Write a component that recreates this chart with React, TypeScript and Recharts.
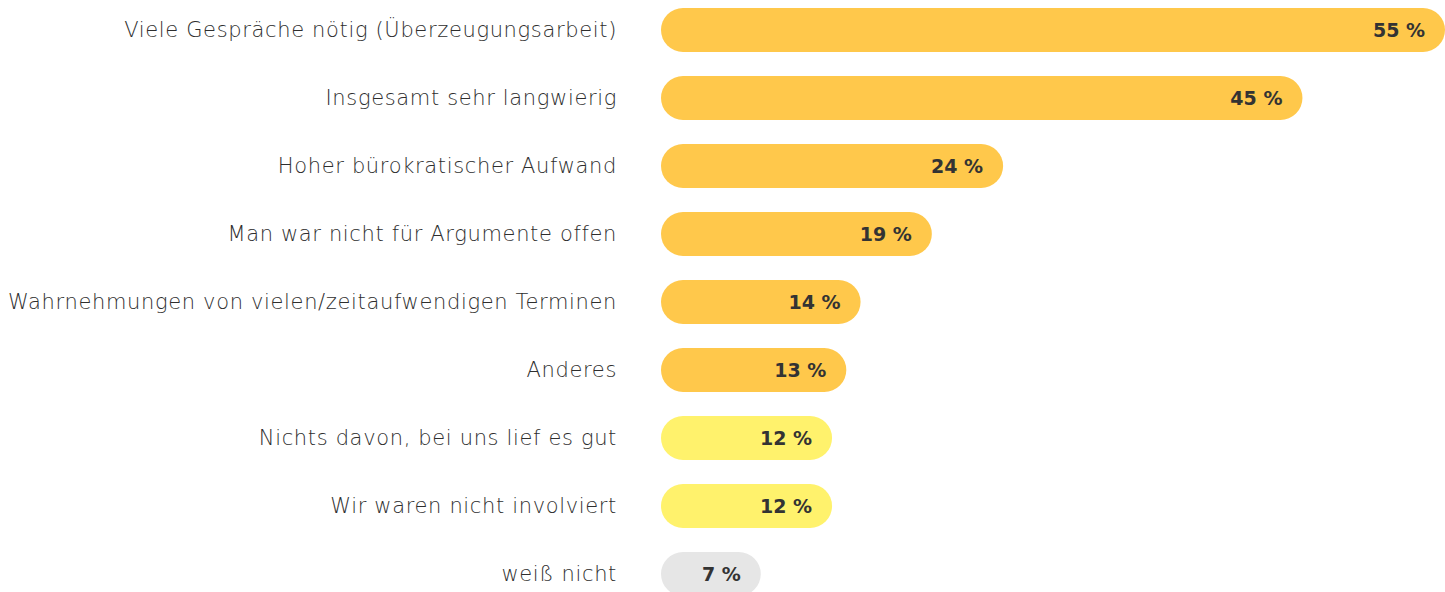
import { BarChart, Bar, XAxis, YAxis, Cell, LabelList } from "recharts"

const categories = [
  "Viele Gespräche nötig (Überzeugungsarbeit)",
  "Insgesamt sehr langwierig",
  "Hoher bürokratischer Aufwand",
  "Man war nicht für Argumente offen",
  "Wahrnehmungen von vielen/zeitaufwendigen Terminen",
  "Anderes",
  "Nichts davon, bei uns lief es gut",
  "Wir waren nicht involviert",
  "weiß nicht",
]

const values = [55, 45, 24, 19, 14, 13, 12, 12, 7]

// answer group per row: problem / none / unknown
const groups = ["problem", "problem", "problem", "problem", "problem", "problem", "none", "none", "unknown"]

const groupColors: Record<string, string> = {
  problem: "#FFC84B",
  none: "#FFF26C",
  unknown: "#E6E6E6",
}

const data = categories.map((name, i) => ({
  name,
  value: values[i],
  group: groups[i],
}))

export default function App() {
  return (
    <div
      style={{
        position: "absolute",
        left: 0,
        top: 0,
        width: 1445,
        height: 592,
        overflow: "hidden",
        background: "#fff",
      }}
    >
      <div style={{ position: "absolute", left: 0, top: -4 }}>
        <BarChart
          width={1445}
          height={612}
          data={data}
          layout="vertical"
          margin={{ top: 0, right: 0, bottom: 0, left: 0 }}
          barSize={44}
        >
          <XAxis type="number" domain={[0, 55]} hide />
          <YAxis
            type="category"
            dataKey="name"
            width={661}
            axisLine={false}
            tickLine={false}
            tickSize={0}
            tickMargin={44}
            interval={0}
            tick={{
              fill: "#2e2e2e",
              fontSize: 21,
              fontFamily: "DejaVu Sans",
              fontWeight: 200,
              letterSpacing: 0.65,
            }}
          />
          <Bar dataKey="value" radius={22} isAnimationActive={false}>
            {data.map((d, i) => (
              <Cell key={`cell-${i}`} fill={groupColors[d.group]} />
            ))}
            <LabelList
              dataKey="value"
              position="insideRight"
              offset={20}
              formatter={(v: number) => `${v} %`}
              style={{
                fill: "#333",
                fontSize: 19,
                fontWeight: 700,
                fontFamily: "DejaVu Sans",
              }}
            />
          </Bar>
        </BarChart>
      </div>
    </div>
  )
}
